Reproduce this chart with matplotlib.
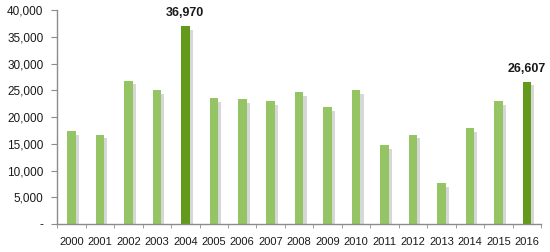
import numpy as np
import matplotlib.pyplot as plt
from matplotlib.ticker import FuncFormatter

annees = [str(a) for a in range(2000, 2017)]
valeurs = [17400, 16700, 26800, 25100, 36970, 23600, 23400, 23000, 24700,
           21800, 25100, 14700, 16700, 7600, 17900, 23000, 26607]
en_valeur = ["2004", "2016"]

vert_clair = "#94c463"
vert_fonce = "#639a1c"
gris = "#8c8c8c"

plt.rcParams['font.family'] = ['Liberation Sans', 'DejaVu Sans']

fig = plt.figure(figsize=(5.5, 2.52), dpi=100)
ax = fig.add_axes([0.104, 0.111, 0.88, 0.849])

x = np.arange(len(annees))
couleurs = [vert_fonce if a in en_valeur else vert_clair for a in annees]

# ombre grise a droite des barres
ax.bar(x + 0.11, np.array(valeurs) - 700, width=0.3, color="#bdbdbd", alpha=0.6, zorder=1)
ax.bar(x, valeurs, width=0.3, color=couleurs, zorder=2)

for a, v in zip(annees, valeurs):
    if a in en_valeur:
        ax.text(annees.index(a), v + 1300, f"{v:,}", ha="center", va="bottom",
                fontsize=9, fontweight="bold", color="#1a1a1a")

ax.set_xlim(-0.5, len(annees) - 0.5)
ax.set_ylim(0, 40000)
ax.set_yticks(range(0, 40001, 5000))
ax.yaxis.set_major_formatter(FuncFormatter(lambda v, p: "-" if v == 0 else f"{int(v):,}"))
ax.set_xticks(x)
ax.set_xticklabels(annees)
ax.set_xticks(np.arange(-0.5, len(annees), 1), minor=True)
ax.tick_params(axis="x", which="major", length=0, labelsize=8, pad=9, colors="#1a1a1a")
ax.tick_params(axis="x", which="minor", length=3, color=gris)
ax.tick_params(axis="y", length=4, color=gris, labelsize=8.5, pad=6, labelcolor="#1a1a1a")

for s in ["top", "right"]:
    ax.spines[s].set_visible(False)
for s in ["left", "bottom"]:
    ax.spines[s].set_color(gris)
    ax.spines[s].set_linewidth(1)

fig.savefig("out.png", dpi=100)
